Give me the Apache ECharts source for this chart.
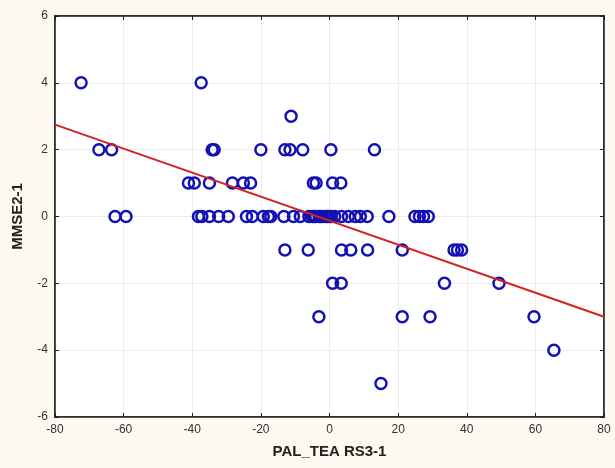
<!DOCTYPE html>
<html>
<head>
<meta charset="utf-8">
<script src="https://cdn.jsdelivr.net/npm/echarts@6/dist/echarts.min.js"></script>
<style>
html,body{margin:0;padding:0;background:#fcf9f0;}
#c{width:615px;height:468px;}
</style>
</head>
<body>
<div id="c"></div>
<script>
// Data
const yRow4 = [-72.4, -37.4];
const yRow3 = [-11.2];
const yRow2 = [-67.2, -63.5, -34.2, -33.6, -20.0, -13.0, -11.5, -7.8, 0.4, 13.1];
const yRow1 = [-41.1, -39.4, -35.0, -28.3, -25.1, -23.0, -4.7, -3.9, 0.9, 3.3];
const yRow0 = [-62.5, -59.3, -38.2, -37.2, -35.0, -32.3, -29.5, -24.2, -22.5, -19.3, -17.8, -17.1,
  -13.3, -10.5, -8.5, -6.0, -5.0, -4.5, -4.0, -3.0, -2.5, -2.0, -1.0, -0.5, 0.0, 0.5,
  1.5, 3.5, 5.5, 7.5, 9.0, 11.0, 17.3, 24.9, 26.2, 27.4, 28.8];
const yRowM1 = [-13.0, -6.2, 3.5, 6.2, 11.1, 21.2, 36.3, 37.3, 38.5];
const yRowM2 = [0.9, 3.4, 33.5, 49.4];
const yRowM3 = [-3.1, 21.2, 29.3, 59.6];
const yRowM4 = [65.4];
const yRowM5 = [15.0];
const rows = [[4, yRow4], [3, yRow3], [2, yRow2], [1, yRow1], [0, yRow0], [-1, yRowM1],
  [-2, yRowM2], [-3, yRowM3], [-4, yRowM4], [-5, yRowM5]];
const fitLine = [[-80, 2.75], [80, -3.0]];
const xTicks = [-80, -60, -40, -20, 0, 20, 40, 60, 80];
const yTicks = [-6, -4, -2, 0, 2, 4, 6];
const xName = 'PAL_TEA RS3-1';
const yName = 'MMSE2-1';

const points = [];
rows.forEach(([y, xs]) => xs.forEach(x => points.push([x, y])));

const chart = echarts.init(document.getElementById('c'), null, {renderer: 'canvas'});
const labelStyle = {color: '#333', fontFamily: 'Liberation Sans, Arial, sans-serif', fontSize: 12};
const tickCommon = {show: true, inside: true, length: 4, lineStyle: {color: '#222', width: 1}};
chart.setOption({
  backgroundColor: '#fcf9f0',
  animation: false,
  grid: {left: 55, right: 11, top: 16, bottom: 51, show: true, backgroundColor: '#ffffff',
    borderColor: '#222', borderWidth: 1.5},
  xAxis: [{
    type: 'value', min: xTicks[0], max: xTicks[xTicks.length - 1], interval: 20,
    axisLine: {show: true, onZero: false, lineStyle: {color: '#222', width: 1.5}},
    axisTick: tickCommon,
    axisLabel: Object.assign({margin: 7}, labelStyle),
    splitLine: {show: true, lineStyle: {color: '#ececec', width: 1}},
    name: xName, nameLocation: 'middle', nameGap: 27,
    nameTextStyle: {color: '#222', fontFamily: 'Liberation Sans, Arial, sans-serif', fontSize: 15, fontWeight: 'bold'}
  }, {
    type: 'value', position: 'top', min: xTicks[0], max: xTicks[xTicks.length - 1], interval: 20,
    axisLine: {show: true, onZero: false, lineStyle: {color: '#222', width: 1.5}},
    axisTick: tickCommon, axisLabel: {show: false}, splitLine: {show: false}
  }],
  yAxis: [{
    type: 'value', min: yTicks[0], max: yTicks[yTicks.length - 1], interval: 2,
    axisLine: {show: true, onZero: false, lineStyle: {color: '#222', width: 1.5}},
    axisTick: tickCommon,
    axisLabel: Object.assign({margin: 7}, labelStyle),
    splitLine: {show: true, lineStyle: {color: '#ececec', width: 1}},
    name: yName, nameLocation: 'middle', nameGap: 30, nameRotate: 90,
    nameTextStyle: {color: '#222', fontFamily: 'Liberation Sans, Arial, sans-serif', fontSize: 15, fontWeight: 'bold'}
  }, {
    type: 'value', position: 'right', min: yTicks[0], max: yTicks[yTicks.length - 1], interval: 2,
    axisLine: {show: true, onZero: false, lineStyle: {color: '#222', width: 1.5}},
    axisTick: tickCommon, axisLabel: {show: false}, splitLine: {show: false}
  }],
  series: [{
    type: 'scatter', data: points, symbol: 'circle', symbolSize: 11,
    itemStyle: {color: 'rgba(0,0,0,0)', borderColor: '#1212b4', borderWidth: 2.5, opacity: 1},
    z: 3
  }, {
    type: 'line', data: fitLine, symbol: 'none',
    lineStyle: {color: '#d42222', width: 2}, z: 4
  }]
});
</script>
</body>
</html>
